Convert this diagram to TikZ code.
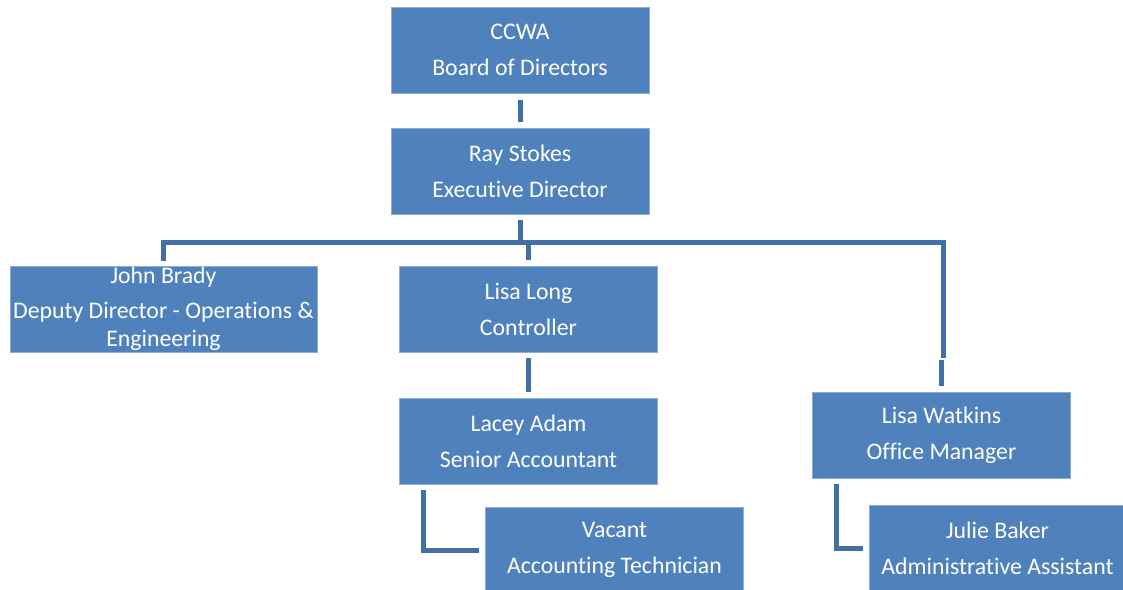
\documentclass[tikz,border=0pt]{standalone}
\usepackage{fontspec}
\setmainfont[RawFeature={-liga}]{Carlito}
\definecolor{boxblue}{HTML}{4F81BD}
\definecolor{boxedge}{HTML}{8DAEDB}
\definecolor{connblue}{HTML}{4170A6}
\tikzset{
  orgbox/.style={rectangle, fill=boxblue, draw=boxedge, line width=0.6pt, text=white,
    inner sep=0pt, minimum width=258pt, minimum height=86pt, align=center,
    font=\fontsize{23.8}{28}\selectfont},
  conn/.style={draw=connblue, line width=5pt, line cap=butt, line join=miter}
}
\begin{document}
\begin{tikzpicture}[x=1pt,y=-1pt]
\useasboundingbox (0,0) rectangle (1123,589);
\begin{scope}
\clip (0,0) rectangle (1123,589);
\node[orgbox] (ccwa) at (520,50) {CCWA\\[8pt]Board of Directors};
\node[orgbox] (ray) at (520,171) {Ray Stokes\\[8pt]Executive Director};
\node[orgbox, minimum width=307pt] (john) at (163.5,309) {John Brady\\[7pt]Deputy Director - Operations \&\\Engineering};
\node[orgbox] (long) at (528.5,309) {Lisa Long\\[8pt]Controller};
\node[orgbox] (lacey) at (528.5,441) {Lacey Adam\\[8pt]Senior Accountant};
\node[orgbox] (vacant) at (614.5,550) {Vacant\\[8pt]Accounting Technician};
\node[orgbox, minimum width=257pt] (julie) at (997.5,548) {Julie Baker\\[8pt]Administrative Assistant};
\node[orgbox] (watkins) at (941.5,435) {Lisa Watkins\\[8pt]Office Manager};
\end{scope}
% bus coordinates
\coordinate (busL) at (163,242);
\coordinate (busR) at (943,242);
\coordinate (jogA) at (943,358);
\coordinate (jogB) at (941,360);
% connectors
\draw[conn] ([yshift=-7pt]ccwa.south) -- ([yshift=6pt]ray.north);
\draw[conn] ([yshift=-6pt]ray.south) -- (ray.south |- busL);
\draw[conn] ([yshift=5pt]john.north -| busL) -- (busL) -- (busR) -- (jogA);
\draw[conn] (jogB) -- ([yshift=6pt]watkins.north -| jogB);
\draw[conn] (long.north |- busL) -- ([yshift=6pt]long.north);
\draw[conn] ([yshift=-6pt]long.south) -- ([yshift=6pt]lacey.north);
\draw[conn] ([xshift=24pt,yshift=-6pt]lacey.south west) |- ([xshift=-6pt]vacant.west |- 0,550);
\draw[conn] ([xshift=24pt,yshift=-6pt]watkins.south west) |- ([xshift=-6pt]julie.west |- 0,548);
\end{tikzpicture}
\end{document}
